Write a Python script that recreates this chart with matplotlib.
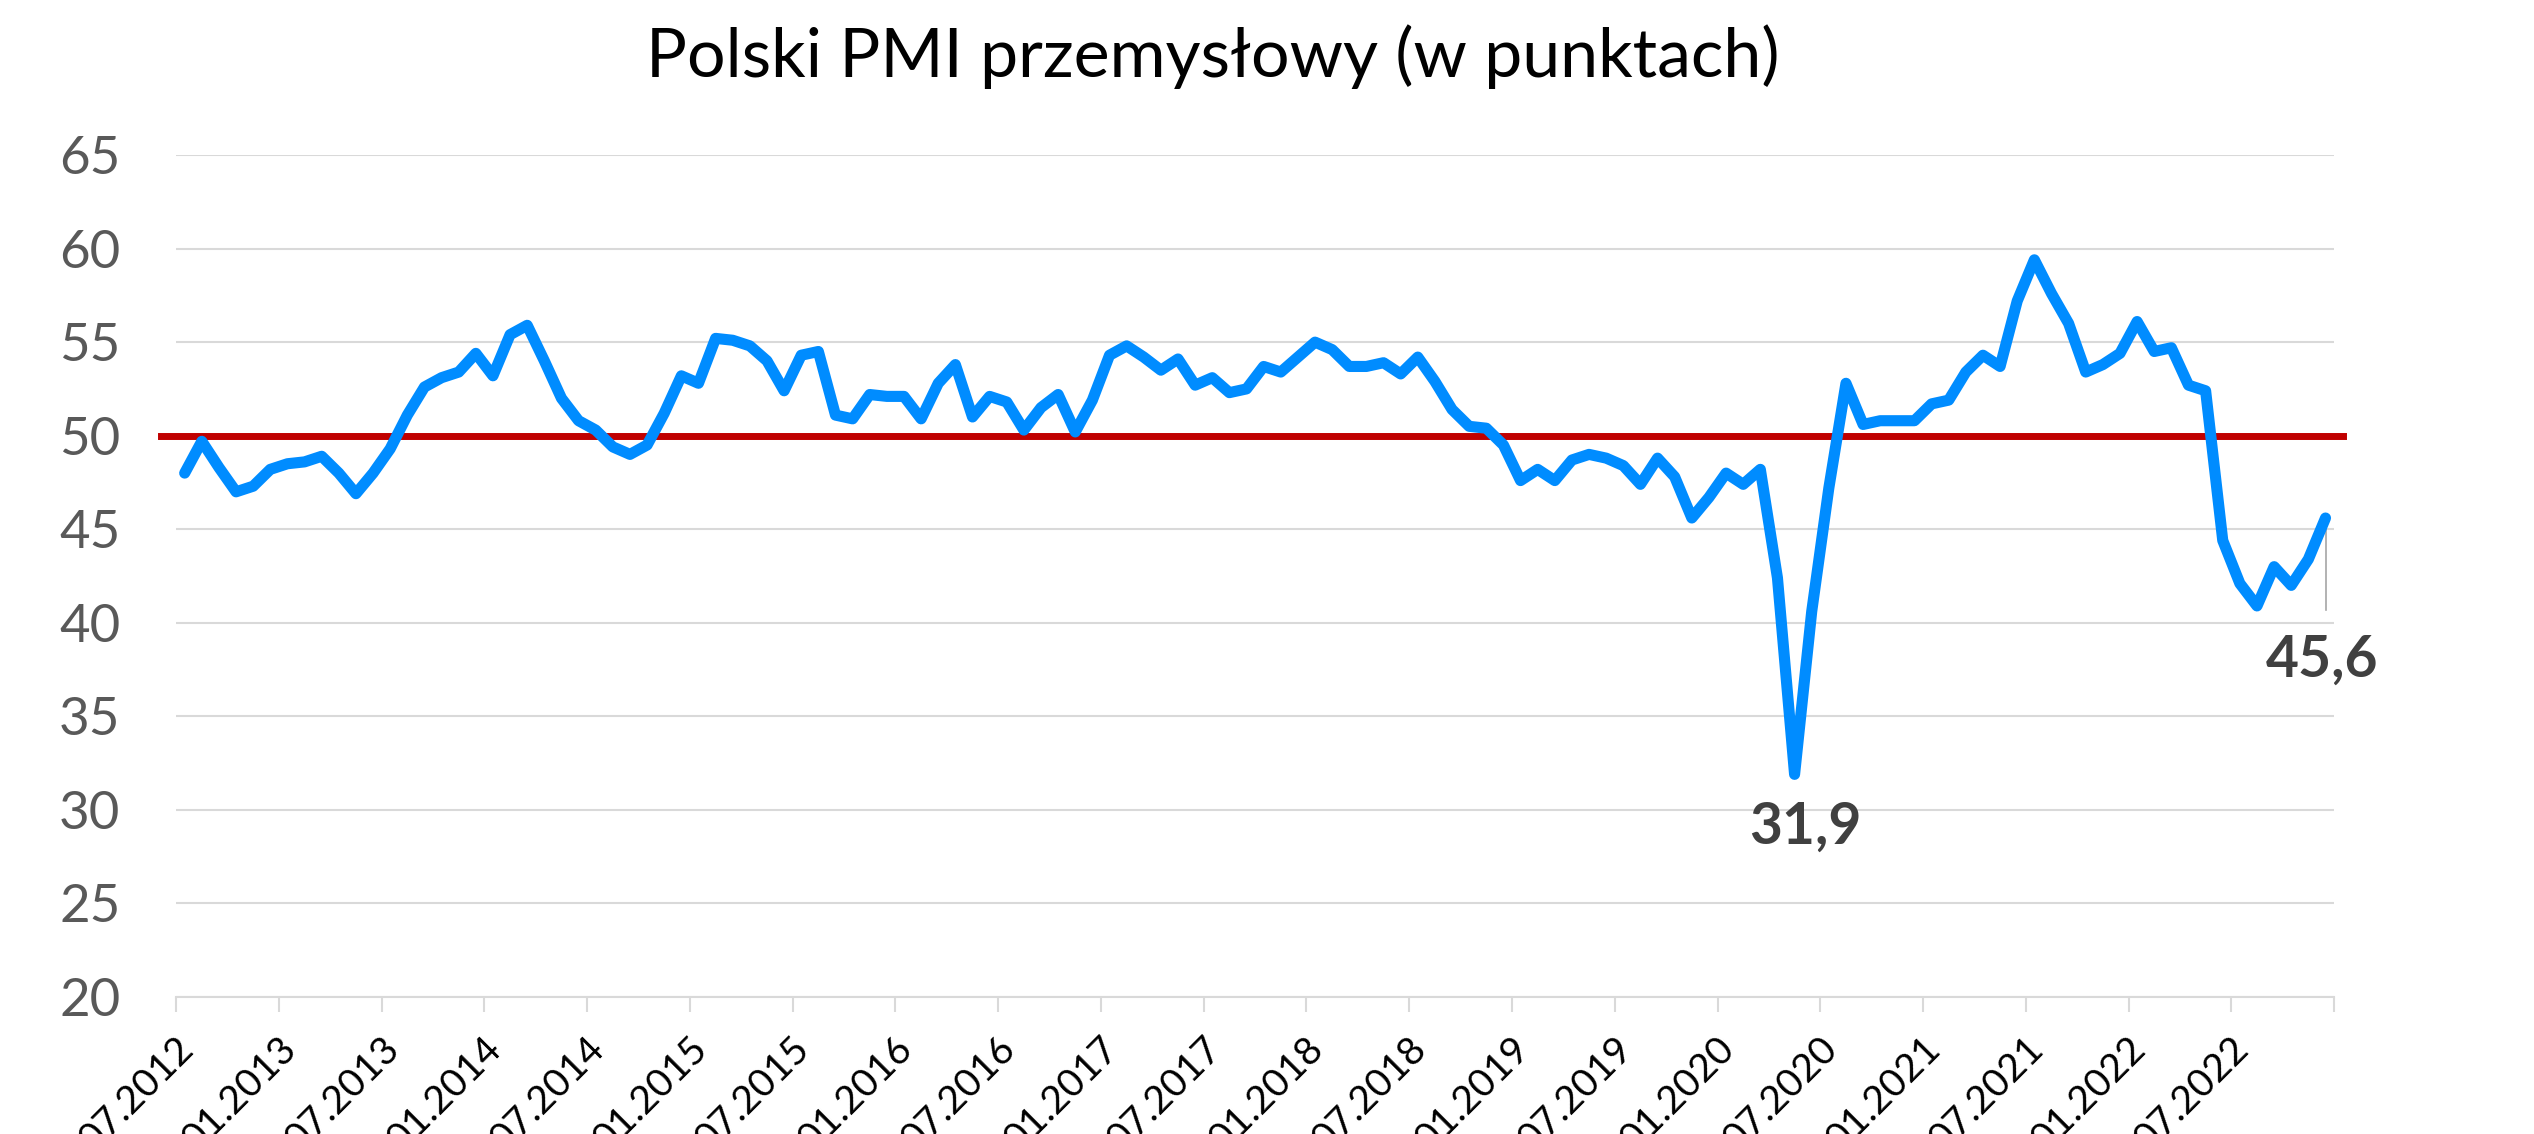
from matplotlib import pyplot as plt
import matplotlib.transforms as mtransforms
import numpy as np

plt.rcParams['font.family'] = ['Lato', 'DejaVu Sans']

# monthly PMI readings (first point = 06.2012 reading)
pmi = [48.0, 49.7, 48.3, 47.0, 47.3, 48.2, 48.5, 48.6, 48.9, 48.0,
       46.9, 48.0, 49.3, 51.1, 52.6, 53.1, 53.4, 54.4, 53.2, 55.4,
       55.9, 54.0, 52.0, 50.8, 50.3, 49.4, 49.0, 49.5, 51.2, 53.2,
       52.8, 55.2, 55.1, 54.8, 54.0, 52.4, 54.3, 54.5, 51.1, 50.9,
       52.2, 52.1, 52.1, 50.9, 52.8, 53.8, 51.0, 52.1, 51.8, 50.3,
       51.5, 52.2, 50.2, 51.9, 54.3, 54.8, 54.2, 53.5, 54.1, 52.7,
       53.1, 52.3, 52.5, 53.7, 53.4, 54.2, 55.0, 54.6, 53.7, 53.7,
       53.9, 53.3, 54.2, 52.9, 51.4, 50.5, 50.4, 49.5, 47.6, 48.2,
       47.6, 48.7, 49.0, 48.8, 48.4, 47.4, 48.8, 47.8, 45.6, 46.7,
       48.0, 47.4, 48.2, 42.4, 31.9, 40.6, 47.2, 52.8, 50.6, 50.8,
       50.8, 50.8, 51.7, 51.9, 53.4, 54.3, 53.7, 57.2, 59.4, 57.6,
       56.0, 53.4, 53.8, 54.4, 56.1, 54.5, 54.7, 52.7, 52.4, 44.4,
       42.1, 40.9, 43.0, 42.0, 43.4, 45.6]

tick_labels = ['07.2012', '01.2013', '07.2013', '01.2014', '07.2014', '01.2015',
               '07.2015', '01.2016', '07.2016', '01.2017', '07.2017', '01.2018',
               '07.2018', '01.2019', '07.2019', '01.2020', '07.2020', '01.2021',
               '07.2021', '01.2022', '07.2022']

threshold = 50
min_idx = 94
last_idx = len(pmi) - 1

fig = plt.figure(figsize=(25.34, 11.34), dpi=100)
ax = fig.add_axes([0.0695, 0.1208, 0.8516, 0.7425])

x = np.arange(len(pmi))
ax.plot(x, pmi, color='#008CFF', linewidth=8, solid_joinstyle='round',
        solid_capstyle='round', zorder=3)

# red 50-point line, a bit wider than the plot area
ax.plot([-1.4, len(pmi)], [threshold, threshold], color='#C00000',
        linewidth=5, clip_on=False, zorder=2)

ax.set_xlim(-0.5, len(pmi) - 0.5)
ax.set_ylim(20, 65)
ax.set_yticks(np.arange(20, 66, 5))
ax.grid(axis='y', color='#D9D9D9', linewidth=1.5)
ax.set_axisbelow(True)
for s in ['top', 'right', 'left']:
    ax.spines[s].set_visible(False)
ax.spines['bottom'].set_color('#D9D9D9')
ax.spines['bottom'].set_linewidth(1.5)

ticks = np.arange(-0.5, len(pmi), 6)
ax.set_xticks(ticks)
ax.set_xticklabels(tick_labels + [''] * (len(ticks) - len(tick_labels)),
                   rotation=45, ha='right', va='center', rotation_mode='anchor')
ax.tick_params(axis='x', length=11, width=1.5, color='#D9D9D9', labelsize=28,
               labelcolor='black', pad=22)
ax.tick_params(axis='y', length=0, labelsize=38, labelcolor='#595959', pad=40)
offset = mtransforms.ScaledTranslation(0.12, 0, fig.dpi_scale_trans)
for lab in ax.get_xticklabels():
    lab.set_transform(lab.get_transform() + offset)

# data labels
ax.text(min_idx + 0.6, pmi[min_idx] - 2.8, '31,9', ha='center', va='center',
        fontsize=41, fontweight='bold', color='#404040')
ax.plot([last_idx, last_idx], [pmi[last_idx], 40.7], color='#A6A6A6',
        linewidth=1.2, zorder=2)
ax.text(last_idx - 0.2, 38.0, '45,6', ha='center', va='center',
        fontsize=41, fontweight='bold', color='#404040')

fig.text(0.4785, 0.95, 'Polski PMI przemysłowy (w punktach)', ha='center',
         va='center', fontsize=49, color='black')

plt.savefig('out.png', dpi=100)
